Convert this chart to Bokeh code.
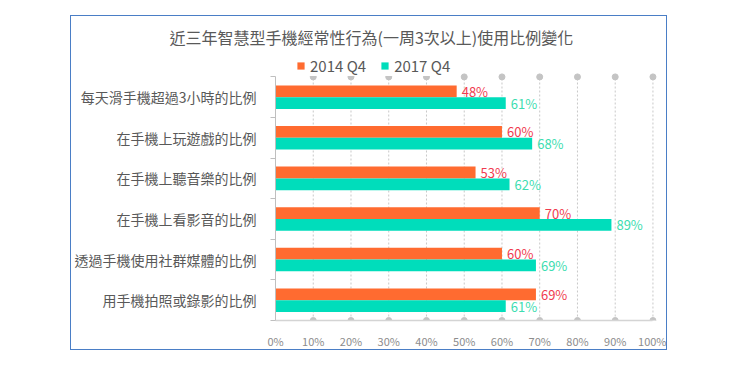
import numpy as np
from bokeh.plotting import figure
from bokeh.models import FixedTicker, ColumnDataSource, Legend, LegendItem
from bokeh.core.properties import value
from bokeh.embed import file_html
from bokeh.resources import INLINE

categories = ["每天滑手機超過3小時的比例", "在手機上玩遊戲的比例", "在手機上聽音樂的比例",
              "在手機上看影音的比例", "透過手機使用社群媒體的比例", "用手機拍照或錄影的比例"]
series_names = ["2014 Q4", "2017 Q4"]
values_2014 = [48, 60, 53, 70, 60, 69]
values_2017 = [61, 68, 62, 89, 69, 61]
x_ticks = [0, 10, 20, 30, 40, 50, 60, 70, 80, 90, 100]
x_tick_labels = ["0%", "10%", "20%", "30%", "40%", "50%", "60%", "70%", "80%", "90%", "100%"]
title_text = "近三年智慧型手機經常性行為(一周3次以上)使用比例變化"

FONT = "Noto Sans CJK TC"
ORANGE = "#FF6B30"
TEAL = "#00DDBB"
GRAY_TXT = "#595959"

n = len(categories)
centers = [n - 0.5 - i for i in range(n)]
bounds = list(range(n + 1))
off = 0.145
bh = 0.29

src = ColumnDataSource(dict(
    cat=categories,
    yc=centers,
    y14=[c + off for c in centers],
    y17=[c - off for c in centers],
    v14=values_2014,
    v17=values_2017,
    l14=[f"{v}%" for v in values_2014],
    l17=[f"{v}%" for v in values_2017],
))

p = figure(width=597, height=335, output_backend="svg", toolbar_location=None,
           x_range=(0, 102), y_range=(0, n + 0.65),
           min_border_left=203, min_border_right=8, min_border_top=34, min_border_bottom=24,
           margin=(15, 0, 0, 70), outline_line_color=None,
           background_fill_color="white", border_fill_color="white")
p.styles = {"border": "1px solid #4A7EC6"}

p.title.text = title_text
p.title.text_font = FONT
p.title.text_font_size = "16px"
p.title.text_font_style = "normal"
p.title.text_color = GRAY_TXT
p.title.align = "left"
p.title.offset = -106
p.title.standoff = 4

p.xgrid.visible = False
p.ygrid.visible = False

grid_x = x_ticks[1:]
p.segment(x0=grid_x, y0=[0] * len(grid_x), x1=grid_x, y1=[n] * len(grid_x),
          line_color="#C8C8C8", line_width=1, line_dash="2 2")
p.scatter(x=grid_x, y=[0] * len(grid_x), size=6, color="#C4C4C4")
p.scatter(x=grid_x, y=[n] * len(grid_x), size=6, color="#C4C4C4")

r14 = p.hbar(y="y14", right="v14", left=0, height=bh, source=src, fill_color=ORANGE, line_color=None)
r17 = p.hbar(y="y17", right="v17", left=0, height=bh, source=src, fill_color=TEAL, line_color=None)

p.text(x="v14", y="y14", text="l14", source=src, x_offset=5, text_baseline="middle",
       text_font=value(FONT), text_font_size="13px", text_color="#F03C50")
p.text(x="v17", y="y17", text="l17", source=src, x_offset=5, text_baseline="middle",
       text_font=value(FONT), text_font_size="13px", text_color="#3DDDB0")

# y axis
ya = p.yaxis[0]
ya.ticker = FixedTicker(ticks=centers, minor_ticks=bounds)
ya.major_label_overrides = {c: cat for c, cat in zip(centers, categories)}
ya.bounds = (0, n)
ya.major_tick_line_color = None
ya.major_tick_out = 0
ya.major_tick_in = 0
ya.minor_tick_out = 5
ya.minor_tick_in = 0
ya.minor_tick_line_color = "#BFBFBF"
ya.axis_line_color = "#BFBFBF"
ya.major_label_standoff = 14
ya.major_label_text_font = FONT
ya.major_label_text_font_size = "14px"
ya.major_label_text_color = GRAY_TXT

# x axis
xa = p.xaxis[0]
xa.ticker = FixedTicker(ticks=x_ticks)
xa.major_label_overrides = {t: l for t, l in zip(x_ticks, x_tick_labels)}
xa.bounds = (0, 100)
xa.major_tick_line_color = None
xa.major_tick_out = 0
xa.major_tick_in = 0
xa.minor_tick_line_color = None
xa.axis_line_color = "#D4D4D4"
xa.axis_line_width = 1.5
xa.major_label_standoff = 12
xa.major_label_text_font = FONT
xa.major_label_text_font_size = "11px"
xa.major_label_text_color = "#8C8C8C"

legend = Legend(items=[LegendItem(label=series_names[0], renderers=[r14]),
                       LegendItem(label=series_names[1], renderers=[r17])],
                orientation="horizontal", location=(21, 244),
                glyph_width=9, glyph_height=9, label_standoff=5, spacing=14,
                padding=2, margin=0, border_line_color=None,
                background_fill_color="white", background_fill_alpha=1,
                label_text_font=FONT, label_text_font_size="15px", label_text_color=GRAY_TXT,
                label_height=20)
p.add_layout(legend, "center")

open("out.html", "w").write(file_html(p, INLINE))
